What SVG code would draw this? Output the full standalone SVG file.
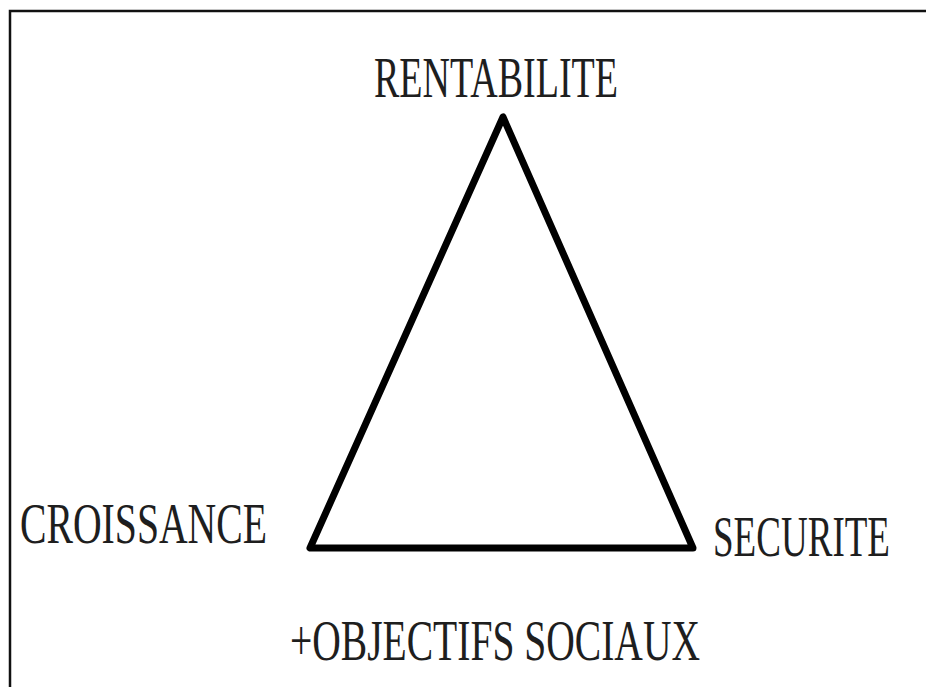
<svg xmlns="http://www.w3.org/2000/svg" width="926" height="687" viewBox="0 0 926 687">
<style>
.lbl{font-family:"Liberation Serif","Times New Roman",serif;font-size:56px;fill:#1e1e1e}
</style>
<rect x="0" y="0" width="926" height="687" fill="#ffffff"/>
<path d="M10,687 V11 H926" fill="none" stroke="#111" stroke-width="2.5"/>
<g id="connectors">
<polygon points="503,117 310,548 693,548" fill="none" stroke="#000" stroke-width="7" stroke-linejoin="round"/>
</g>
<g id="rentabilite"><text class="lbl" x="374" y="97" textLength="244" lengthAdjust="spacingAndGlyphs">RENTABILITE</text></g>
<g id="croissance"><text class="lbl" x="20" y="543" textLength="247" lengthAdjust="spacingAndGlyphs">CROISSANCE</text></g>
<g id="securite"><text class="lbl" x="713" y="556" textLength="177" lengthAdjust="spacingAndGlyphs">SECURITE</text></g>
<g id="objectifs"><text class="lbl" x="290" y="660" textLength="410" lengthAdjust="spacingAndGlyphs">+OBJECTIFS SOCIAUX</text></g>
</svg>
